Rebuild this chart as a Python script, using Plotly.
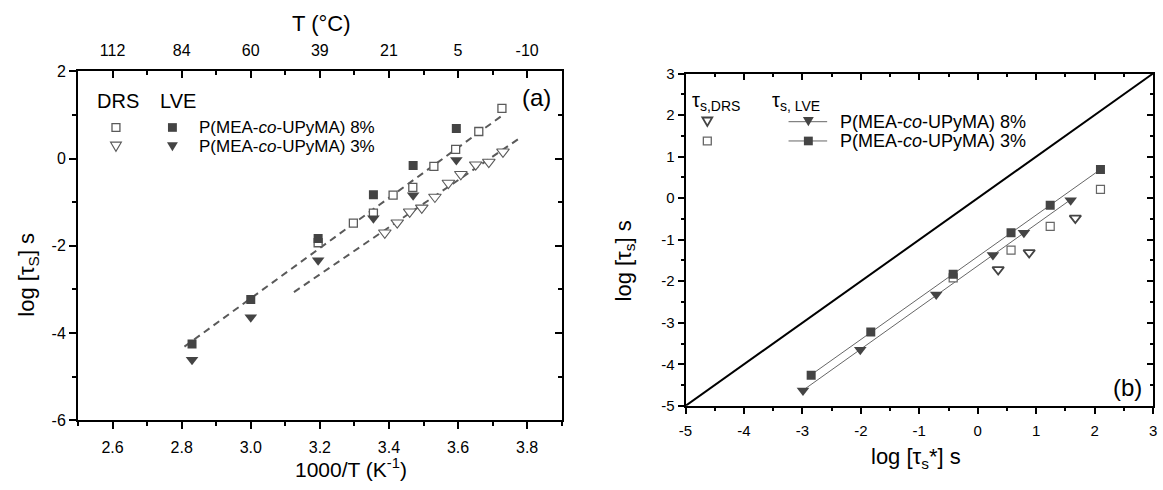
import plotly.graph_objects as go
import numpy as np

W, H = 1163, 490

# ---------------- panel (a) data ----------------
invT_lve = [2.83, 3.00, 3.195, 3.355, 3.47, 3.595]
logtau_lve_8 = [-4.25, -3.23, -1.83, -0.83, -0.16, 0.69]
logtau_lve_3 = [-4.61, -3.64, -2.33, -1.37, -0.84, -0.03]

invT_drs_8 = [3.195, 3.297, 3.355, 3.412, 3.469, 3.53, 3.593, 3.66, 3.727]
logtau_drs_8 = [-1.93, -1.48, -1.25, -0.84, -0.66, -0.18, 0.21, 0.62, 1.15]

invT_drs_3 = [3.388, 3.424, 3.46, 3.495, 3.533, 3.572, 3.608, 3.651, 3.689, 3.73]
logtau_drs_3 = [-1.70, -1.47, -1.22, -1.13, -0.88, -0.56, -0.36, -0.14, -0.08, 0.155]

fit8_x = [2.808, 3.73]
fit8_y = [-4.31, 1.0]
fit3_x = [3.125, 3.775]
fit3_y = [-3.06, 0.45]

A_x_ticks = [2.6, 2.8, 3.0, 3.2, 3.4, 3.6, 3.8]
A_x_labels = ["2.6", "2.8", "3.0", "3.2", "3.4", "3.6", "3.8"]
A_y_ticks = [-6, -4, -2, 0, 2]
A_y_labels = ["-6", "-4", "-2", "0", "2"]
T_tick_pos = [2.6, 2.8, 3.0, 3.2, 3.4, 3.6, 3.8]
T_tick_labels = ["112", "84", "60", "39", "21", "5", "-10"]

# ---------------- panel (b) data ----------------
tstar_lve_sq = [-2.85, -1.83, -0.42, 0.57, 1.24, 2.10]
tau_lve_sq = [-4.26, -3.22, -1.83, -0.83, -0.17, 0.69]
tstar_lve_tri = [-2.99, -2.01, -0.71, 0.26, 0.79, 1.59]
tau_lve_tri = [-4.63, -3.65, -2.32, -1.37, -0.83, -0.05]
tstar_drs_sq = [-0.42, 0.57, 1.24, 2.10]
tau_drs_sq = [-1.92, -1.25, -0.68, 0.21]
tstar_drs_tri = [0.35, 0.88, 1.67]
tau_drs_tri = [-1.72, -1.31, -0.48]
diag = [-5, 3]

B_ticks = [-5, -4, -3, -2, -1, 0, 1, 2, 3]
B_labels = ["-5", "-4", "-3", "-2", "-1", "0", "1", "2", "3"]

DARK = "#444444"
GRAY = "#5a5a5a"
LGRAY = "#666666"
FONT = "Liberation Sans, Arial, sans-serif"

fig = go.Figure()

# ---- panel (a) traces ----
for fx, fy in [(fit8_x, fit8_y), (fit3_x, fit3_y)]:
    fig.add_trace(go.Scatter(x=fx, y=fy, mode="lines", xaxis="x", yaxis="y",
                             line=dict(color=GRAY, width=2, dash="7px,5px"),
                             hoverinfo="skip"))
fig.add_trace(go.Scatter(x=invT_drs_8, y=logtau_drs_8, mode="markers", xaxis="x", yaxis="y",
                         marker=dict(symbol="square", size=8, color="white",
                                     line=dict(color=GRAY, width=1.3))))
fig.add_trace(go.Scatter(x=invT_drs_3, y=logtau_drs_3, mode="markers", xaxis="x", yaxis="y",
                         marker=dict(symbol="triangle-down", size=11, color="white",
                                     line=dict(color=GRAY, width=1.1))))
fig.add_trace(go.Scatter(x=invT_lve, y=logtau_lve_8, mode="markers", xaxis="x", yaxis="y",
                         marker=dict(symbol="square", size=9, color=DARK, line=dict(width=0))))
fig.add_trace(go.Scatter(x=invT_lve, y=logtau_lve_3, mode="markers", xaxis="x", yaxis="y",
                         marker=dict(symbol="triangle-down", size=11, color=DARK, line=dict(width=0))))

# ---- panel (b) traces ----
fig.add_trace(go.Scatter(x=diag, y=diag, mode="lines", xaxis="x2", yaxis="y2",
                         line=dict(color="black", width=2), hoverinfo="skip"))
for xs, ys in [(tstar_lve_sq, tau_lve_sq), (tstar_lve_tri, tau_lve_tri)]:
    k, b = np.polyfit(xs, ys, 1)
    xl = [min(xs), max(xs)]
    fig.add_trace(go.Scatter(x=xl, y=[k * v + b for v in xl], mode="lines", xaxis="x2", yaxis="y2",
                             line=dict(color=LGRAY, width=1), hoverinfo="skip"))
fig.add_trace(go.Scatter(x=tstar_drs_sq, y=tau_drs_sq, mode="markers", xaxis="x2", yaxis="y2",
                         marker=dict(symbol="square", size=8, color="white",
                                     line=dict(color=LGRAY, width=1.2))))
fig.add_trace(go.Scatter(x=tstar_drs_tri, y=tau_drs_tri, mode="markers", xaxis="x2", yaxis="y2",
                         marker=dict(symbol="triangle-down", size=10, color="white",
                                     line=dict(color=DARK, width=1.8))))
fig.add_trace(go.Scatter(x=tstar_lve_sq, y=tau_lve_sq, mode="markers", xaxis="x2", yaxis="y2",
                         marker=dict(symbol="square", size=9, color=DARK, line=dict(width=0))))
fig.add_trace(go.Scatter(x=tstar_lve_tri, y=tau_lve_tri, mode="markers", xaxis="x2", yaxis="y2",
                         marker=dict(symbol="triangle-down", size=11, color=DARK, line=dict(width=0))))

# dummy traces so that overlay axes are drawn
for xa, ya in [("x3", "y"), ("x", "y3"), ("x4", "y2"), ("x2", "y4")]:
    fig.add_trace(go.Scatter(x=[None], y=[None], mode="markers", xaxis=xa, yaxis=ya,
                             hoverinfo="skip", showlegend=False))

# ---- axes ----
axA_x = [71.7 / W, 560 / W]
axA_y = [1 - 427 / H, 1 - 64.7 / H]
axB_x = [685 / W, 1157 / W]
axB_y = [1 - 412 / H, 1 - 67 / H]


def base_axis(**kw):
    d = dict(showline=True, linecolor="black", linewidth=2, showgrid=False, zeroline=False,
             tickcolor="black", tickwidth=1.5, color="black")
    d.update(kw)
    return d


MINOR_A_OUT = dict(ticks="outside", ticklen=4, tickcolor="black", tickwidth=1.5)
MINOR_A_IN = dict(ticks="inside", ticklen=4, tickcolor="black", tickwidth=1.5)
MINOR_B_OUT = dict(ticks="outside", ticklen=3, tickcolor="black", tickwidth=1.5)
MINOR_B_IN = dict(ticks="inside", ticklen=3, tickcolor="black", tickwidth=1.5)

fig.update_layout(
    xaxis=base_axis(domain=axA_x, anchor="y", range=[2.5, 3.9], tickvals=A_x_ticks, ticktext=A_x_labels,
                    ticks="outside", ticklen=7, ticklabelstandoff=4,
                    minor=dict(tick0=2.5, dtick=0.1, **MINOR_A_OUT),
                    tickfont=dict(size=16, family=FONT)),
    yaxis=base_axis(domain=axA_y, anchor="x", range=[-6, 2], tickvals=A_y_ticks, ticktext=A_y_labels,
                    ticks="outside", ticklen=7,
                    minor=dict(tick0=-6, dtick=1, **MINOR_A_OUT),
                    tickfont=dict(size=16, family=FONT)),
    xaxis3=base_axis(domain=axA_x, overlaying="x", anchor="y", side="top", range=[2.5, 3.9],
                     tickvals=T_tick_pos, ticktext=T_tick_labels, ticks="inside", ticklen=7,
                     ticklabelstandoff=7,
                     minor=dict(tick0=2.5, dtick=0.1, **MINOR_A_IN),
                     tickfont=dict(size=16, family=FONT)),
    yaxis3=base_axis(domain=axA_y, overlaying="y", anchor="x", side="right", range=[-6, 2],
                     tickvals=A_y_ticks, ticks="inside", ticklen=7, showticklabels=False,
                     minor=dict(tick0=-6, dtick=1, **MINOR_A_IN)),
    xaxis2=base_axis(domain=axB_x, anchor="y2", range=[-5, 3], tickvals=B_ticks, ticktext=B_labels,
                     ticks="outside", ticklen=6, ticklabelstandoff=4,
                     minor=dict(tick0=-5, dtick=0.5, **MINOR_B_OUT),
                     tickfont=dict(size=15, family=FONT)),
    yaxis2=base_axis(domain=axB_y, anchor="x2", range=[-5, 3], tickvals=B_ticks, ticktext=B_labels,
                     ticks="outside", ticklen=6,
                     minor=dict(tick0=-5, dtick=0.5, **MINOR_B_OUT),
                     tickfont=dict(size=15, family=FONT)),
    xaxis4=base_axis(domain=axB_x, overlaying="x2", anchor="y2", side="top", range=[-5, 3],
                     tickvals=B_ticks, ticks="inside", ticklen=6, showticklabels=False,
                     minor=dict(tick0=-5, dtick=0.5, **MINOR_B_IN)),
    yaxis4=base_axis(domain=axB_y, overlaying="y2", anchor="x2", side="right", range=[-5, 3],
                     tickvals=B_ticks, ticks="inside", ticklen=6, showticklabels=False,
                     minor=dict(tick0=-5, dtick=0.5, **MINOR_B_IN)),
)


def px(x):
    return x / W


def py(y):
    return 1 - y / H


annotations = []
shapes = []


def text(x, y, s, size, xanchor="left", angle=0):
    annotations.append(dict(x=px(x), y=py(y), xref="paper", yref="paper", text=s, showarrow=False,
                            xanchor=xanchor, yanchor="middle", textangle=angle,
                            font=dict(size=size, family=FONT, color="black")))


def square(cx, cy, s, filled, color):
    shapes.append(dict(type="rect", xref="paper", yref="paper",
                       x0=px(cx - s / 2), x1=px(cx + s / 2), y0=py(cy + s / 2), y1=py(cy - s / 2),
                       fillcolor=color if filled else "white", line=dict(color=color, width=0 if filled else 1.3)))


def tri(cx, cy, s, filled, color, lw=1.1):
    h = s * 0.87
    pts = [(cx - s / 2, cy - h / 2), (cx + s / 2, cy - h / 2), (cx, cy + h / 2)]
    path = "M {} {} L {} {} L {} {} Z".format(*[v for p in pts for v in (px(p[0]), py(p[1]))])
    shapes.append(dict(type="path", xref="paper", yref="paper", path=path,
                       fillcolor=color if filled else "white",
                       line=dict(color=color, width=0 if filled else lw)))


def hline(x0, x1, y, color):
    shapes.append(dict(type="line", xref="paper", yref="paper", x0=px(x0), x1=px(x1), y0=py(y), y1=py(y),
                       line=dict(color=color, width=1)))


# axis titles
text(317, 15, "T (°C)", 22, xanchor="center")
text(347, 477, "1000/T (K<sup>-1</sup>)", 21, xanchor="center")
text(21, 276, "log [τ<sub>S</sub>] s", 22, xanchor="center", angle=-90)
text(918, 466, "log [τ<sub>s</sub>*] s", 22, xanchor="center")
text(624, 262, "log [τ<sub>s</sub>] s", 22, xanchor="center", angle=-90)

# panel labels
text(535, 92, "(a)", 24, xanchor="center")
text(1131, 393, "(b)", 24, xanchor="center")

# legend (a)
text(89, 95, "DRS", 20)
text(152, 95, "LVE", 20)
square(110, 123, 8, False, GRAY)
square(167, 123, 9, True, DARK)
tri(110, 143, 11, False, GRAY)
tri(167, 143, 11, True, DARK)
text(192, 123, "P(MEA-<i>co</i>-UPyMA) 8%", 17)
text(192, 143, "P(MEA-<i>co</i>-UPyMA) 3%", 17)

# legend (b)
text(690, 96, "τ<sub>s,DRS</sub>", 20)
text(770, 96, "τ<sub>s, LVE</sub>", 20)
tri(707, 117, 10, False, DARK, lw=1.8)
square(707, 137, 8, False, LGRAY)
hline(789, 828, 117, LGRAY)
tri(809, 117, 11, True, DARK)
hline(789, 828, 137, LGRAY)
square(809, 137, 9, True, DARK)
text(839, 117, "P(MEA-<i>co</i>-UPyMA) 8%", 18)
text(839, 137, "P(MEA-<i>co</i>-UPyMA) 3%", 18)

fig.update_layout(width=W, height=H, margin=dict(l=0, r=0, t=0, b=0),
                  paper_bgcolor="white", plot_bgcolor="white", showlegend=False,
                  font=dict(family=FONT, color="black"),
                  annotations=annotations, shapes=shapes)

fig.write_html("out.html")
